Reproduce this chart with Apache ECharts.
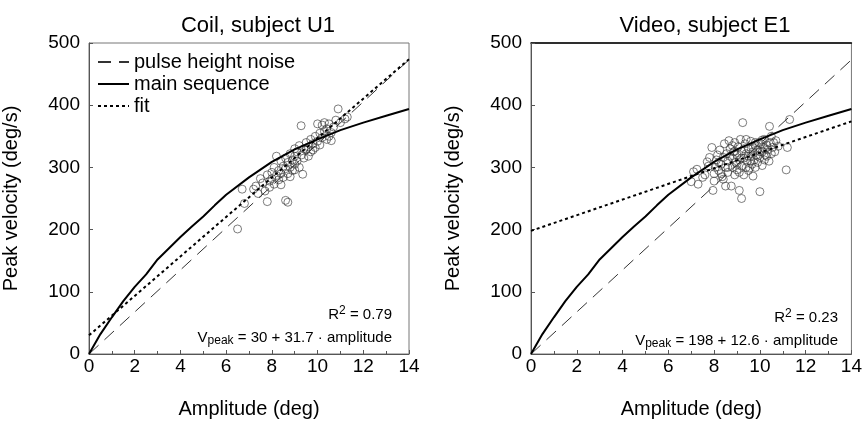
<!DOCTYPE html>
<html><head><meta charset="utf-8">
<script src="https://cdn.jsdelivr.net/npm/echarts@6/dist/echarts.min.js"></script>
<style>html,body{margin:0;padding:0;background:#fff}#c{width:865px;height:424px}</style>
</head><body><div id="c"></div>
<script>
// ---- data ----
var xTicks = [0, 2, 4, 6, 8, 10, 12, 14];
var yTicks = [0, 100, 200, 300, 400, 500];
var noiseLine = [[0, 0], [14, 473]];
var mainSequence = [[0,0],[0.5,32],[1,59],[1.5,85],[2,108],[2.5,128],[3,152],[3.5,170],[4,188],[4.5,205],[5,221],[5.5,239],[6,256],[7,284],[8,309],[9,329],[10,345],[11,360],[12,372],[13,383],[14,394]];
var fitCoil = [[0, 30], [14, 474]];
var fitVideo = [[0, 198], [14, 374]];
var coilPoints = [[6.5,201],[6.7,265],[6.8,242],[7.2,265],[7.3,270],[7.4,258],[7.5,282],[7.6,275],[7.7,262],[7.8,245],[7.8,288],[7.9,278],[7.9,268],[8.0,292],[8.0,282],[8.1,300],[8.1,273],[8.2,287],[8.2,318],[8.3,295],[8.3,280],[8.4,310],[8.4,290],[8.5,302],[8.5,284],[8.6,247],[8.6,315],[8.6,298],[8.7,244],[8.7,308],[8.7,290],[8.8,322],[8.8,300],[8.9,312],[8.9,295],[9.0,330],[9.0,318],[9.0,305],[9.1,325],[9.1,310],[9.2,335],[9.2,300],[9.35,289],[9.3,320],[9.28,367],[9.4,315],[9.4,330],[9.5,328],[9.5,340],[9.6,318],[9.6,333],[9.7,345],[9.7,325],[9.8,338],[9.9,350],[9.9,332],[10.0,370],[10.0,342],[10.1,355],[10.1,336],[10.2,368],[10.2,348],[10.3,372],[10.3,358],[10.4,345],[10.4,362],[10.5,370],[10.5,350],[10.6,343],[10.7,365],[10.8,376],[10.9,394],[11.0,372],[11.2,378],[11.3,381],[10.6,356],[9.8,328],[9.0,296],[8.4,272],[8.8,285]];
var videoPoints = [[7.0,277],[7.1,293],[7.25,297],[7.3,273],[7.5,284],[7.6,288],[7.7,309],[7.75,302],[7.8,316],[7.9,332],[7.95,263],[8.0,278],[8.05,300],[8.1,312],[8.15,320],[8.2,295],[8.25,328],[8.3,305],[8.35,285],[8.4,281],[8.4,316],[8.45,338],[8.5,270],[8.5,300],[8.55,322],[8.6,310],[8.6,292],[8.65,343],[8.7,330],[8.75,270],[8.8,315],[8.8,300],[8.85,325],[8.9,340],[8.9,288],[8.95,308],[9.0,320],[9.0,296],[9.05,333],[9.1,263],[9.1,312],[9.15,345],[9.2,250],[9.2,302],[9.2,326],[9.25,372],[9.3,288],[9.3,315],[9.35,338],[9.4,300],[9.4,322],[9.45,310],[9.5,330],[9.5,295],[9.55,299],[9.6,318],[9.6,342],[9.65,305],[9.7,286],[9.7,325],[9.75,312],[9.8,335],[9.8,300],[9.85,320],[9.9,328],[9.9,308],[9.95,340],[10.0,261],[10.0,316],[10.05,338],[10.1,325],[10.1,303],[10.15,332],[10.2,345],[10.2,312],[10.25,320],[10.3,336],[10.35,328],[10.42,366],[10.4,310],[10.45,340],[10.5,350],[10.5,322],[10.55,332],[10.6,340],[10.65,325],[10.7,343],[10.8,334],[11.15,296],[11.2,332],[11.3,377],[8.3,290],[8.7,318],[9.0,305],[9.3,330],[9.6,310],[9.9,318],[10.2,330],[8.2,308],[8.9,326],[9.5,318],[10.0,325],[8.6,300],[9.1,292],[9.8,340],[10.3,318],[8.0,290],[9.4,345],[9.7,332],[10.1,344],[8.8,335],[9.2,315]];
var titles = ['Coil, subject U1', 'Video, subject E1'];
var r2Texts = ['0.79', '0.23'];
var eqTexts = ['30 + 31.7', '198 + 12.6'];
var legendNames = ['pulse height noise', 'main sequence', 'fit'];

var FONT = 'Liberation Sans, Arial, sans-serif';
var grids = [
  {left: 86, top: 43, width: 323, height: 324},
  {left: 531, top: 43, width: 324, height: 324}
];
function xAxis(i) {
  return {
    type: 'value', gridIndex: i, min: xTicks[0], max: xTicks[xTicks.length-1], interval: 2,
    name: 'Amplitude (deg)', nameLocation: 'middle', nameGap: 45,
    nameTextStyle: {fontFamily: FONT, fontSize: 20, color: '#000'},
    axisLine: {lineStyle: {color: '#555', width: 1}},
    axisTick: {inside: true, length: 4, lineStyle: {color: '#555'}},
    minorTick: {show: true, splitNumber: 2, length: 3, lineStyle: {color: '#555'}},
    axisLabel: {fontFamily: FONT, fontSize: 19, color: '#000', margin: 3},
    splitLine: {show: false}
  };
}
function yAxis(i) {
  return {
    type: 'value', gridIndex: i, min: yTicks[0], max: yTicks[yTicks.length-1], interval: 100,
    name: 'Peak velocity (deg/s)', nameLocation: 'middle', nameGap: 68,
    nameTextStyle: {fontFamily: FONT, fontSize: 20, color: '#000'},
    axisLine: {lineStyle: {color: '#555', width: 1}},
    axisTick: {inside: true, length: 4, lineStyle: {color: '#555'}},
    axisLabel: {fontFamily: FONT, fontSize: 19, color: '#000', margin: 9},
    splitLine: {show: false}
  };
}
var xs = [xAxis(0), xAxis(1), {
  type: 'value', gridIndex: 1, position: 'top', min: 0, max: 14,
  axisLine: {lineStyle: {color: '#000', width: 1.5}}, axisTick: {show: false},
  axisLabel: {show: false}, splitLine: {show: false}
}];
var ys = [yAxis(0), yAxis(1)];

function lineSeries(name, data, i, style) {
  return {type: 'line', name: name, xAxisIndex: i, yAxisIndex: i, data: data,
    showSymbol: false, symbol: 'none', itemStyle: {color: 'rgba(0,0,0,0)'},
    lineStyle: style, z: 5, silent: true, animation: false};
}
var noiseStyle = {color: '#333', width: 1, type: [13, 8]};
var mainStyle = {color: '#000', width: 2, type: 'solid'};
var fitStyle = {color: '#000', width: 2, type: [3, 3]};
function scatter(data, i) {
  return {type: 'scatter', xAxisIndex: i, yAxisIndex: i, data: data, symbol: 'circle', symbolSize: 8,
    itemStyle: {color: 'rgba(255,255,255,0)', borderColor: '#333', borderWidth: 0.8}, z: 3, animation: false};
}
var series = [
  scatter(coilPoints, 0),
  lineSeries(legendNames[0], noiseLine, 0, noiseStyle),
  lineSeries(legendNames[1], mainSequence, 0, mainStyle),
  lineSeries(legendNames[2], fitCoil, 0, fitStyle),
  scatter(videoPoints, 1),
  lineSeries('n2', noiseLine, 1, noiseStyle),
  lineSeries('m2', mainSequence, 1, mainStyle),
  lineSeries('f2', fitVideo, 1, fitStyle)
];

var titleObjs = [
  {text: titles[0], left: 253, top: 10, textAlign: 'center', textStyle: {fontFamily: FONT, fontSize: 22, fontWeight: 'normal', color: '#000'}},
  {text: titles[1], left: 700, top: 10, textAlign: 'center', textStyle: {fontFamily: FONT, fontSize: 22, fontWeight: 'normal', color: '#000'}}
];
var rich = {
  n: {fontFamily: FONT, fontSize: 15, color: '#000'},
  sup: {fontFamily: FONT, fontSize: 12, color: '#000', padding: [0, 0, 7, 0]},
  sub: {fontFamily: FONT, fontSize: 12, color: '#000', padding: [7, 0, 0, 0]}
};
function annot(xRight, yR2, yEq, i) {
  return [
    {type: 'text', right: 865 - xRight, top: yR2 - 10, style: {text: '{n|R}{sup|2}{n| = ' + r2Texts[i] + '}', rich: rich, align: 'right'}},
    {type: 'text', right: 865 - xRight, top: yEq - 10, style: {text: '{n|V}{sub|peak}{n| = ' + eqTexts[i] + ' · amplitude}', rich: rich, align: 'right'}}
  ];
}
var option = {
  backgroundColor: '#fff',
  animation: false,
  title: titleObjs,
  grid: grids.map(function (g) { return Object.assign({show: true, borderColor: '#777', borderWidth: 1}, g); }),
  xAxis: xs,
  yAxis: ys,
  legend: {
    data: legendNames, orient: 'vertical', left: 97, top: 52, padding: 0, itemWidth: 31, itemHeight: 12, itemGap: 2,
    selectedMode: false, itemStyle: {opacity: 0},
    textStyle: {fontFamily: FONT, fontSize: 20, color: '#000'}
  },
  graphic: annot(392, 315, 340, 0).concat(annot(838, 318, 343, 1)),
  series: series
};
var chart = echarts.init(document.getElementById('c'), null, {renderer: 'canvas'});
chart.setOption(option);
</script></body></html>
